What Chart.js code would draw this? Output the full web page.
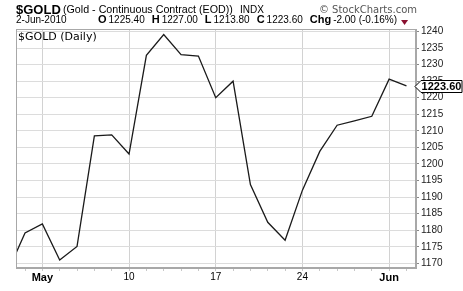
<!DOCTYPE html>
<html lang="en">
<head>
<meta charset="UTF-8" />
<title>$GOLD Daily</title>
<script src="https://cdn.jsdelivr.net/npm/chart.js@4"></script>
<style>
  body { margin: 0; background: #fff; }
  canvas { display: block; }
</style>
</head>
<body>
<canvas id="goldChart" width="463" height="291"></canvas>
<script>
// daily closes, 29-Apr-2010 .. 2-Jun-2010 (trading days only)
const dates = [
  "29-Apr", "30-Apr",
  "3-May", "4-May", "5-May", "6-May", "7-May",
  "10-May", "11-May", "12-May", "13-May", "14-May",
  "17-May", "18-May", "19-May", "20-May", "21-May",
  "24-May", "25-May", "26-May", "27-May", "28-May",
  "1-Jun", "2-Jun"
];
const closes = [
  1167.5, 1179.2,
  1181.9, 1171.0, 1175.1, 1208.5, 1208.8,
  1203.0, 1232.8, 1239.1, 1233.0, 1232.6,
  1220.0, 1225.0, 1193.8, 1182.4, 1177.0,
  1192.1, 1203.8, 1211.7, 1213.0, 1214.4,
  1225.6, 1223.6
];
const yTicks = [1170, 1175, 1180, 1185, 1190, 1195, 1200, 1205, 1210, 1215, 1220, 1225, 1230, 1235, 1240];
const xTickIndex = [2, 7, 12, 17, 22];
const xTickText = ["May", "10", "17", "24", "Jun"];
const monthLabels = ["May", "Jun"];

const quote = [["O", "1225.40"], ["H", "1227.00"], ["L", "1213.80"], ["C", "1223.60"], ["Chg", "-2.00 (-0.16%)"]];
const lastClose = closes[closes.length - 1];

const sans = "'Liberation Sans', Arial, sans-serif";
const verd = "'DejaVu Sans', Verdana, sans-serif";

const headerPlugin = {
  id: "header",
  afterDatasetsDraw(chart) {
    const { ctx, chartArea: a } = chart;
    ctx.save();
    // plot frame
    ctx.strokeStyle = "#a8a8a8";
    ctx.lineWidth = 1;
    ctx.strokeRect(a.left + 0.5, a.top + 0.5, a.right - a.left - 1, a.bottom - a.top - 1);
    // inner label
    ctx.fillStyle = "#000";
    ctx.textBaseline = "alphabetic";
    ctx.font = "11px " + verd;
    ctx.fillText("$GOLD (Daily)", a.left + 2, a.top + 11);
    ctx.restore();
  },
  afterDraw(chart) {
    const { ctx } = chart;
    const y = chart.scales.y;
    ctx.save();
    ctx.textBaseline = "alphabetic";
    ctx.fillStyle = "#000";

    // row 1
    ctx.font = "bold 13px " + sans;
    ctx.fillText("$GOLD", 16, 14);
    ctx.font = "10.7px " + sans;
    ctx.fillText("(Gold - Continuous Contract (EOD))", 63, 13);
    ctx.font = "10px " + sans;
    ctx.fillText("INDX", 240, 13);
    ctx.fillStyle = "#555";
    ctx.font = "10px " + verd;
    ctx.textAlign = "right";
    ctx.fillText("\u00a9 StockCharts.com", 417, 13);
    ctx.textAlign = "left";

    // row 2
    ctx.fillStyle = "#000";
    ctx.font = "10px " + sans;
    ctx.fillText("2-Jun-2010", 16, 23);
    let x = 98;
    for (const [k, v] of quote) {
      ctx.font = "bold 11px " + sans;
      ctx.fillText(k, x, 23);
      x += ctx.measureText(k).width + 2;
      ctx.font = "10px " + sans;
      ctx.fillText(v, x, 23);
      x += ctx.measureText(v).width + 7;
    }
    // down arrow
    ctx.fillStyle = "#8a1030";
    ctx.beginPath();
    ctx.moveTo(x - 3, 20);
    ctx.lineTo(x + 4, 20);
    ctx.lineTo(x + 0.5, 25);
    ctx.closePath();
    ctx.fill();

    // last value tag
    const py = Math.round(y.getPixelForValue(lastClose)) + 0.5;
    const left = chart.chartArea.right;
    ctx.beginPath();
    ctx.moveTo(left - 1, py);
    ctx.lineTo(left + 5, py - 6);
    ctx.lineTo(462, py - 6);
    ctx.lineTo(462, py + 6);
    ctx.lineTo(left + 5, py + 6);
    ctx.closePath();
    ctx.fillStyle = "#fff";
    ctx.fill();
    ctx.strokeStyle = "#000";
    ctx.lineWidth = 1;
    ctx.stroke();
    ctx.fillStyle = "#000";
    ctx.font = "bold 11px " + sans;
    ctx.textAlign = "center";
    ctx.textBaseline = "middle";
    ctx.fillText(lastClose.toFixed(2), (left + 5 + 462) / 2, py + 0.5);
    ctx.restore();
  }
};

new Chart(document.getElementById("goldChart"), {
  type: "line",
  data: {
    labels: dates,
    datasets: [{
      label: "$GOLD",
      data: closes.map((c, i) => ({ x: i, y: c })),
      borderColor: "#1a1a1a",
      borderWidth: 1.3,
      pointRadius: 0,
      tension: 0,
      fill: false
    }]
  },
  options: {
    responsive: false,
    animation: false,
    layout: { padding: { top: 29, left: 16, right: 0, bottom: 0 } },
    plugins: {
      legend: { display: false },
      tooltip: { enabled: false },
      title: { display: false }
    },
    scales: {
      x: {
        type: "linear",
        min: 0.48,
        max: 23.55,
        afterBuildTicks: (scale) => {
          scale.ticks = dates.map((d, i) => ({ value: i })).filter((t) => t.value > 0);
        },
        afterFit: (scale) => { scale.height = 23; },
        grid: {
          color: (c) => (c.tick && xTickIndex.includes(c.tick.value) ? "#d2d2d2" : "rgba(0,0,0,0)"),
          tickColor: "#c8c8c8",
          tickLength: 3
        },
        border: { display: true, color: "#a8a8a8" },
        ticks: {
          autoSkip: false,
          maxRotation: 0,
          minRotation: 0,
          padding: 0,
          color: "#000",
          font: (c) => {
            const i = xTickIndex.indexOf(c.tick && c.tick.value);
            const bold = i >= 0 && monthLabels.includes(xTickText[i]);
            return { family: sans, size: bold ? 11 : 10, weight: bold ? "bold" : "normal" };
          },
          callback: (v) => {
            const i = xTickIndex.indexOf(v);
            return i >= 0 ? xTickText[i] : "";
          }
        }
      },
      y: {
        position: "right",
        min: 1168.6,
        max: 1240.75,
        afterBuildTicks: (scale) => {
          scale.ticks = yTicks.map((v) => ({ value: v }));
        },
        afterFit: (scale) => { scale.width = 47; },
        grid: { color: "#dcdcdc", tickColor: "#888", tickLength: 3 },
        border: { display: true, color: "#a8a8a8" },
        ticks: {
          padding: 2,
          color: "#222",
          font: { family: sans, size: 10 },
          callback: (v) => String(v)
        }
      }
    }
  },
  plugins: [headerPlugin]
});
</script>
</body>
</html>
